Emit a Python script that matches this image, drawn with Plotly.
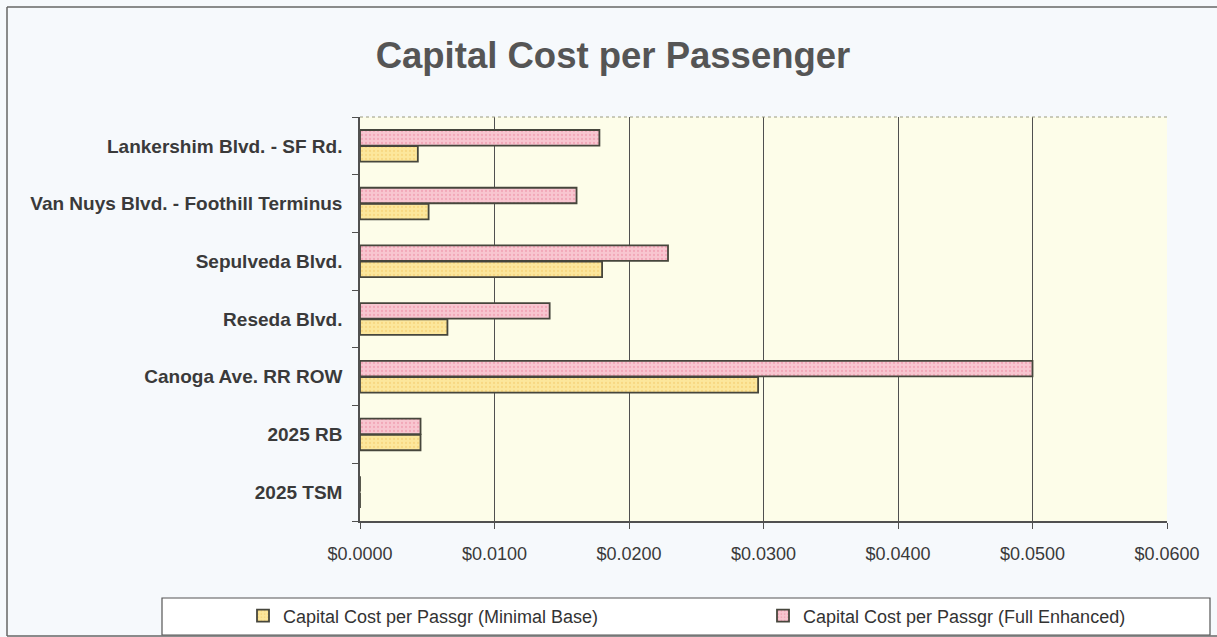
import plotly.graph_objects as go

# Corridors, listed bottom-to-top as they appear on the axis
corridors = [
    "2025 TSM",
    "2025 RB",
    "Canoga Ave. RR ROW",
    "Reseda Blvd.",
    "Sepulveda Blvd.",
    "Van Nuys Blvd. - Foothill Terminus",
    "Lankershim Blvd. - SF Rd.",
]
minimal_base = [0.0, 0.0045, 0.0296, 0.0065, 0.0180, 0.0051, 0.0043]
full_enhanced = [0.0, 0.0045, 0.0500, 0.0141, 0.0229, 0.0161, 0.0178]
tick_vals = [0.0, 0.01, 0.02, 0.03, 0.04, 0.05, 0.06]
tick_text = ["$0.0000", "$0.0100", "$0.0200", "$0.0300", "$0.0400", "$0.0500", "$0.0600"]

W, H = 1217, 637
L, R, T, B = 360, 50, 117, 116
PW, PH = W - L - R, H - T - B


def px_x(x):
    return (x - L) / PW


def px_y(y):
    return (H - B - y) / PH


FONT = "Liberation Sans, Arial"
label_font = dict(family=FONT, size=19, color="#3a3a3a", weight="bold")
tick_font = dict(family=FONT, size=18, color="#3a3a3a")
legend_font = dict(family=FONT, size=18, color="#333333")

fig = go.Figure()
fig.add_trace(go.Bar(
    y=corridors, x=minimal_base, orientation="h",
    name="Capital Cost per Passgr (Minimal Base)",
    marker=dict(color="#fce79c", line=dict(color="#46463c", width=1.8),
                pattern=dict(shape=".", fgcolor="#f3c868", size=4, solidity=0.25, fillmode="overlay")),
    legend="legend",
))
fig.add_trace(go.Bar(
    y=corridors, x=full_enhanced, orientation="h",
    name="Capital Cost per Passgr (Full Enhanced)",
    marker=dict(color="#f8c6d0", line=dict(color="#46463c", width=1.8),
                pattern=dict(shape=".", fgcolor="#ec8aa0", size=4, solidity=0.25, fillmode="overlay")),
    legend="legend2",
))

legend_common = dict(orientation="h", xanchor="left", yanchor="middle",
                     y=px_y(616), bgcolor="rgba(0,0,0,0)", borderwidth=0,
                     font=legend_font, itemwidth=30)

fig.update_layout(
    width=W, height=H,
    margin=dict(l=L, r=R, t=T, b=B, autoexpand=False),
    paper_bgcolor="#f6f9fc",
    plot_bgcolor="#fdfde9",
    barmode="group",
    bargap=0.44,
    bargroupgap=0.04,
    title=dict(text="<b>Capital Cost per Passenger</b>", xref="container", x=613 / W,
               xanchor="center", y=1 - 55 / H, yanchor="middle",
               font=dict(family=FONT, size=36.5, color="#555555")),
    xaxis=dict(range=[0, 0.06], tickvals=tick_vals, ticktext=tick_text,
               showgrid=True, gridcolor="#505050", gridwidth=1,
               showline=True, linecolor="#505050", linewidth=1.5,
               ticks="outside", ticklen=6, tickcolor="#505050",
               tickfont=tick_font, ticklabelstandoff=10,
               zeroline=False, fixedrange=True),
    yaxis=dict(categoryorder="array", categoryarray=corridors,
               showline=True, linecolor="#505050", linewidth=1.5,
               ticks="outside", ticklen=6, tickcolor="#505050", tickson="boundaries",
               tickfont=label_font, ticklabelstandoff=12, showgrid=False),
    showlegend=True,
    legend=dict(legend_common, x=px_x(243)),
    legend2=dict(legend_common, x=px_x(763)),
    shapes=[
        # legend frame
        dict(type="rect", xref="paper", yref="paper",
             x0=px_x(162), x1=px_x(1210), y0=px_y(635), y1=px_y(598),
             line=dict(color="#555555", width=1.2), fillcolor="white", layer="below"),
        # plot area top edge
        dict(type="line", xref="paper", yref="paper", x0=0, x1=1, y0=1, y1=1,
             line=dict(color="#9a9a80", width=1, dash="dot")),
        # outer chart frame: top, left, bottom edges
        dict(type="line", xref="paper", yref="paper", x0=px_x(7), x1=px_x(1230),
             y0=px_y(7), y1=px_y(7), line=dict(color="#666666", width=1.5)),
        dict(type="line", xref="paper", yref="paper", x0=px_x(7), x1=px_x(7),
             y0=px_y(7), y1=px_y(636), line=dict(color="#666666", width=1.5)),
        dict(type="line", xref="paper", yref="paper", x0=px_x(7), x1=px_x(1230),
             y0=px_y(636), y1=px_y(636), line=dict(color="#666666", width=1.5)),
    ],
)

fig.write_html("out.html")
